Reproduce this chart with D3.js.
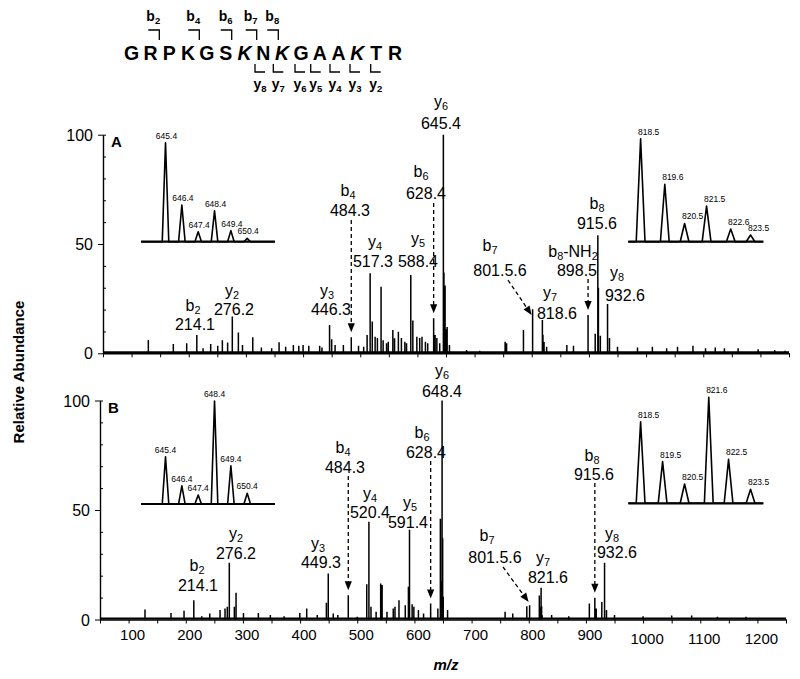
<!DOCTYPE html>
<html><head><meta charset="utf-8">
<script src="https://cdn.jsdelivr.net/npm/d3@7"></script>
<style>body{margin:0;background:#fff} svg{display:block} text{font-family:Arial,"Liberation Sans",Helvetica,sans-serif;fill:#000}</style>
</head><body><svg id="c" width="800" height="679"></svg>
<script>
// ---------------- DATA ----------------
const sequence = ["G","R","P","K","G","S","K","N","K","G","A","A","K","T","R"];
const italicResidues = [7, 9, 13];
const bIons = ["2","4","6","7","8"];
const yIons = ["8","7","6","5","4","3","2"];

const xTickLabels = [100,200,300,400,500,600,700,800,900,1000,1100,1200];
const yTickLabels = [0,50,100];

// Panel A spectrum (m/z, relative abundance)
const specA_mz = [129.3,173,196.4,214.1,225,238.4,250.7,258.8,268,276.2,286.8,294,312,327,345,358,369.5,383,392.5,400,410,429,433,446.3,450,456,470.5,484.3,497,506,512,517.3,521,526,530,536.4,540,546,549,557,560,566.7,572,578,581,588.4,592,599,604,608,614,618,628.4,631,634,639,645.4,646.4,647.4,648.4,649.4,650.4,652,656,686,709,753.4,756,785.5,801.5,818.6,819.6,821.5,826,861.4,873,898.5,911,915.6,916.6,920,932.6,936,950,985,1011,1036,1055,1082,1104,1121,1137,1161,1196,1225,1243];
const specA_int = [6.1,4.3,4.6,8.4,2.3,4.3,3.4,6,4.9,16.8,9.5,3.8,7.3,2.7,2.3,5,3,3.8,3.4,3.8,3.4,3.4,2.7,13,6.4,3.8,3.8,7.3,3.4,3,8.4,36.6,14.5,7.6,7,30.5,6,4.6,5.3,10.7,6.9,9.9,7,5.3,4.6,35.8,15,7.6,7,7.6,5.3,4.6,16,8.4,7,4.6,100,37,10,31,11,3.4,12,3.8,1.5,1.2,5.3,4.6,10.7,20.1,15.2,8.5,5.2,3,3.8,3.4,17.5,9,54,30,8,22.6,7,3,2.6,3,2.3,3,3.4,2.3,2.6,2.3,2.3,1.8,1.5,1.2];

// Panel B spectrum
const specB_mz = [128.7,174.2,197,214.1,228,242,260,268.7,272.7,276.2,285,288,301,327,348,372,399.5,411.6,430,446,449.3,458,466,484.3,500,516.6,520.4,524,533,541,543.5,552,563,566,573,584,589.5,591.4,596,599,607,616,628.4,641,645.4,646.4,647.4,648.4,649.4,650.4,658,758.6,772,796.6,801.5,818.5,819.5,820.5,821.6,822.5,823.5,840,870,906,915.6,918,927.8,932.6,936,950,1000,1050,1085,1130,1180];
const specB_int = [4.6,3,4,8.8,1.5,2.7,4.3,5,5.8,25.9,5.8,12.2,3,3,2,1.5,3,5,2,7.6,21,2.7,2,11.1,1.2,16.1,44.6,5.8,3.5,16.4,15.7,3.5,5,5.8,8.8,6.5,14.9,41,7,5.8,4.3,2.7,7.3,5,46,17.7,8.7,100,37.1,10.4,4.3,3.5,2.7,6.1,6.5,11,5.6,2.6,14.5,6,1.9,2,1.5,7.3,9.9,5,8,25.9,4.3,2,1.5,1.8,1.8,1.2,1.2];

// Insets (isotope clusters)
const insetA1_mz = [645.4,646.4,647.4,648.4,649.4,650.4];
const insetA1_int = [100,37,10,31.3,11.2,3.4];
const insetA1_lbl = ["645.4","646.4","647.4","648.4","649.4","650.4"];
const insetA2_mz = [818.5,819.6,820.5,821.5,822.6,823.5];
const insetA2_int = [100,55.8,17.7,34.5,12.3,6.5];
const insetA2_lbl = ["818.5","819.6","820.5","821.5","822.6","823.5"];
const insetB1_mz = [645.4,646.4,647.4,648.4,649.4,650.4];
const insetB1_int = [45.8,17.7,8.7,100,37.1,10.4];
const insetB1_lbl = ["645.4","646.4","647.4","648.4","649.4","650.4"];
const insetB2_mz = [818.5,819.5,820.5,821.6,822.5,823.5];
const insetB2_int = [77,39.3,18.2,100,41.5,13.2];
const insetB2_lbl = ["818.5","819.5","820.5","821.6","822.5","823.5"];

// Ion annotations ("_" marks a subscript run)
const ionsA = ["b_2","y_2","y_3","b_4","y_4","y_5","b_6","y_6","b_7","y_7","b_8-NH_2","b_8","y_8"];
const valsA = ["214.1","276.2","446.3","484.3","517.3","588.4","628.4","645.4","801.5.6","818.6","898.5","915.6","932.6"];
const ionsB = ["b_2","y_2","y_3","b_4","y_4","y_5","b_6","y_6","b_7","y_7","b_8","y_8"];
const valsB = ["214.1","276.2","449.3","484.3","520.4","591.4","628.4","648.4","801.5.6","821.6","915.6","932.6"];
// arrows: m/z they point to
const arrowsA_mz = [484.3, 628.4, 801.5, 898.5];
const arrowsB_mz = [484.3, 628.4, 801.5, 915.6];

// ---------------- LAYOUT ----------------
const svg = d3.select("#c");
const xA = d3.scaleLinear().domain([50,1250]).range([103,789]);
const xB = d3.scaleLinear().domain([50,1250]).range([100,786]);
const yA = d3.scaleLinear().domain([0,100]).range([353.3,134.7]);
const yB = d3.scaleLinear().domain([0,100]).range([619.5,400.5]);

// label positions [ionX, ionY, valX, valY] (text centres)
const posA = [[193,305,195,324],[232,290,234,309],[327,290,331,309],[348,190,350,210],[375,241,373,261],[418,238,418,261],
              [421,171,426,193],[441,101,441,123],[490,245,500,270],[550,292,557,313],[573,251,577,270],[597,203,597,223],[617,272,625,295]];
const posB = [[197,565,198,585],[236,533,236,553],[318,543,321,562],[343,447,345,467],[370,493,370,512],[410,502,408,522],
              [422,432,426,452],[442,370,442,391],[487,535,495,557],[543,557,548,577],[592,455,594,474],[612,533,617,552]];
// arrow start points (y for vertical, [x,y] for diagonal)
const arrLayA = [{y0:220},{y0:203},{x0:508,y0:280,tipY:315},{y0:279}];
const arrLayB = [{y0:476},{y0:461},{x0:503,y0:567,tipY:602},{y0:483}];

// ---------------- HELPERS ----------------
function richText(g, str, x, y, size, opts={}) {
  const t = g.append("text").attr("x", x).attr("y", y).attr("font-size", size)
    .attr("text-anchor", opts.anchor || "middle").attr("dominant-baseline","central");
  if (opts.bold) t.attr("font-weight","bold");
  const parts = str.split(/(_\d+)/).filter(s=>s.length);
  let shift = 0;
  parts.forEach(p => {
    if (p[0] === "_") {
      t.append("tspan").attr("font-size", size*0.68).attr("dy", size*0.3).text(p.slice(1));
      shift = 1;
    } else {
      const ts = t.append("tspan").text(p);
      if (shift) { ts.attr("dy", -size*0.3); shift = 0; }
    }
  });
  return t;
}

function arrowHead(g, x1, y1, x2, y2) {
  const a = Math.atan2(y2-y1, x2-x1), L = 9, W = 3.6;
  const bx = x2 - L*Math.cos(a), by = y2 - L*Math.sin(a);
  const px = -Math.sin(a)*W, py = Math.cos(a)*W;
  g.append("path").attr("d", `M${x2},${y2}L${bx+px},${by+py}L${bx-px},${by-py}Z`).attr("fill","#000");
}

function drawPanel(x, y, mz, inten, ions, vals, pos, arrMz, arrLay, showLabels, letter) {
  const g = svg.append("g");
  const path = mz.map((m,i)=>`M${x(m)},${y(0)}V${y(inten[i])}`).join("");
  g.append("path").attr("d", path).attr("stroke","#000").attr("stroke-width",1.5).attr("fill","none");
  g.append("line").attr("x1",x(50)).attr("x2",x(1250)).attr("y1",y(0)-1).attr("y2",y(0)-1).attr("stroke","#000").attr("stroke-width",2);
  const ax = g.append("g").attr("transform",`translate(0,${y(0)})`)
    .call(d3.axisBottom(x).tickValues(d3.range(50,1251,50)).tickSize(4).tickSizeOuter(0).tickFormat(""));
  ax.select(".domain").attr("stroke-width",1.4);
  ax.selectAll(".tick line").attr("stroke-width",1);
  if (showLabels) {
    g.selectAll("text.xt").data(xTickLabels).join("text").attr("class","xt")
      .attr("x", d=>x(d)+4).attr("y", d=>y(0)+20+(d>=1000?4:0))
      .attr("text-anchor","middle").attr("font-size",15).text(d=>d);
  }
  const ayL = g.append("g").attr("transform",`translate(${x(50)},0)`)
    .call(d3.axisLeft(y).tickValues(yTickLabels).tickSize(5).tickSizeOuter(0).tickFormat(""));
  ayL.select(".domain").attr("stroke-width",1.4);
  g.append("g").attr("transform",`translate(${x(50)},0)`)
    .call(d3.axisRight(y).tickValues([10,20,30,40,60,70,80,90,100]).tickSize(3).tickSizeOuter(0).tickFormat(""))
    .select(".domain").remove();
  g.selectAll("text.yt").data(yTickLabels).join("text").attr("class","yt")
    .attr("x", x(50)-10).attr("y", d=>y(d)+6).attr("text-anchor","end").attr("font-size",16).text(d=>d);
  g.append("text").attr("x", x(50)+8).attr("y", y(100)+12).attr("font-size",15).attr("font-weight","bold").text(letter);
  ions.forEach((s,i)=>{
    const p = pos[i];
    richText(g, s, p[0], p[1], 16);
    g.append("text").attr("x",p[2]).attr("y",p[3]).attr("text-anchor","middle").attr("dominant-baseline","central")
      .attr("font-size",16).text(vals[i]);
  });
  arrMz.forEach((m,i)=>{
    const L = arrLay[i];
    const idx = mz.indexOf(m);
    let x0, y0, x1, y1;
    if (L.x0 !== undefined) { x0 = L.x0; y0 = L.y0; x1 = x(m)-1; y1 = L.tipY; }
    else { x0 = x1 = x(m); y0 = L.y0; y1 = y(inten[idx]) - 5; }
    const a = Math.atan2(y1-y0, x1-x0);
    g.append("line").attr("x1",x0).attr("y1",y0).attr("x2",x1-8*Math.cos(a)).attr("y2",y1-8*Math.sin(a))
      .attr("stroke","#000").attr("stroke-width",1.3).attr("stroke-dasharray","4,3");
    arrowHead(g, x0, y0, x1, y1);
  });
}

function drawInset(mz, inten, lbl, dom, rng, baseY, h, dx) {
  const g = svg.append("g");
  const x = d3.scaleLinear().domain(dom).range(rng);
  const y = d3.scaleLinear().domain([0,100]).range([baseY, baseY-h]);
  const pts = [[dom[0],0]];
  mz.forEach((m,i)=>{ pts.push([m-0.2,0],[m,inten[i]],[m+0.2,0]); });
  pts.push([dom[1],0]);
  g.append("path").attr("d", d3.line().x(d=>x(d[0])).y(d=>y(d[1]))(pts))
    .attr("fill","none").attr("stroke","#000").attr("stroke-width",1.6).attr("stroke-linejoin","round");
  g.append("line").attr("x1",rng[0]).attr("x2",rng[1]).attr("y1",baseY).attr("y2",baseY).attr("stroke","#000").attr("stroke-width",2.2);
  g.selectAll("text").data(lbl).join("text")
    .attr("x",(d,i)=>x(mz[i])+dx).attr("y",(d,i)=>y(inten[i])-4)
    .attr("text-anchor","middle").attr("font-size",8.5).attr("fill","#222").text(d=>d);
}

// ---------------- DRAW ----------------
const sg = svg.append("g");
const seqX = d3.scalePoint().domain(d3.range(sequence.length)).range([131.7, 395]);
const bBrX = [159.3,199.3,231.7,256.7,278.3];
const yBrX = [255,273.3,295,310.7,330,350,370.7];
sg.selectAll("text.res").data(sequence).join("text").attr("class","res")
  .attr("x",(d,i)=>seqX(i)).attr("y",60).attr("text-anchor","middle")
  .attr("font-weight","bold").attr("font-size",19.5)
  .attr("font-style",(d,i)=>italicResidues.includes(i+1)?"italic":"normal").text(d=>d);
bIons.forEach((n,i)=>{
  const xv = bBrX[i];
  sg.append("path").attr("d",`M${xv-11},30H${xv}V40`).attr("fill","none").attr("stroke","#000").attr("stroke-width",1.3);
  richText(sg, "b_"+n, xv-6, 16, 14, {bold:true});
});
yIons.forEach((n,i)=>{
  const xv = yBrX[i];
  sg.append("path").attr("d",`M${xv},64V72H${xv+10}`).attr("fill","none").attr("stroke","#000").attr("stroke-width",1.3);
  richText(sg, "y_"+n, xv+5, 84, 14, {bold:true});
});

drawPanel(xA, yA, specA_mz, specA_int, ionsA, valsA, posA, arrowsA_mz, arrLayA, false, "A");
drawPanel(xB, yB, specB_mz, specB_int, ionsB, valsB, posB, arrowsB_mz, arrLayB, true, "B");

drawInset(insetA1_mz, insetA1_int, insetA1_lbl, [643.9,652.1], [141,275], 241.7, 99, 1);
drawInset(insetA2_mz, insetA2_int, insetA2_lbl, [817.94,824.08], [628.3,763.3], 241.7, 103, 8);
drawInset(insetB1_mz, insetB1_int, insetB1_lbl, [643.9,652.1], [141,275], 504, 103, 0);
drawInset(insetB2_mz, insetB2_int, insetB2_lbl, [817.94,824.08], [628.3,763.3], 503.3, 106, 8);

svg.append("text").attr("transform","translate(24,372) rotate(-90)").attr("text-anchor","middle")
  .attr("font-size",15).attr("font-weight","bold").text("Relative Abundance");
svg.append("text").attr("x",446).attr("y",670).attr("text-anchor","middle")
  .attr("font-size",15).attr("font-weight","bold").attr("font-style","italic").text("m/z");
</script></body></html>
